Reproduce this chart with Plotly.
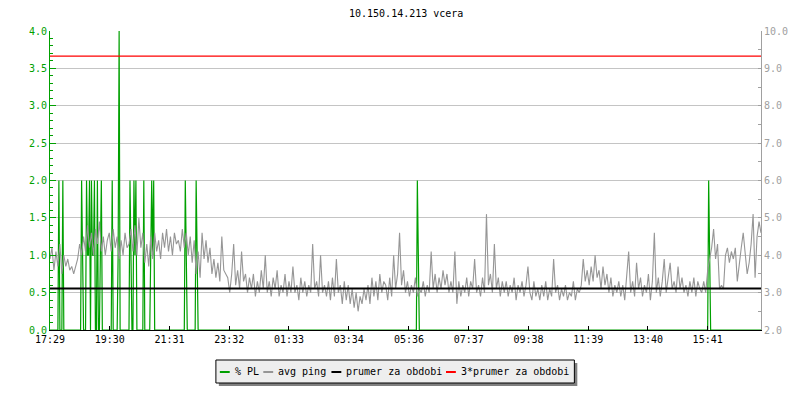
import datetime as dt
import plotly.graph_objects as go

# ---------------- data ----------------
title_text = "10.150.14.213 vcera"
start_time = "2013-05-14 17:29"
end_time = "2013-05-15 17:29"
tick_labels = ["17:29", "19:30", "21:31", "23:32", "01:33", "03:34",
               "05:36", "07:37", "09:38", "11:39", "13:40", "15:41"]

ping_step_min = 4  # avg ping sample every 4 minutes (ms)
avg_ping = [
    3.9, 4.2, 3.6, 4.1, 3.7, 4.3, 3.5, 4.0, 3.7, 3.9,
    3.6, 3.7, 3.5, 3.7, 3.9, 4.3, 4.0, 4.5, 4.1, 4.8,
    4.2, 4.6, 4.0, 4.7, 4.3, 4.9, 4.1, 4.5, 4.0, 4.4,
    4.6, 4.1, 4.7, 4.2, 4.5, 3.9, 4.4, 4.0, 4.6, 4.2,
    4.3, 4.7, 4.1, 4.8, 4.0, 5.0, 4.2, 4.6, 3.8, 4.3,
    3.7, 4.5, 3.9, 4.6, 4.1, 4.4, 3.9, 4.6, 4.2, 4.7,
    4.1, 4.5, 4.0, 4.6, 4.3, 4.4, 4.1, 4.7, 4.2, 4.6,
    4.0, 4.5, 3.8, 4.4, 3.5, 4.1, 3.4, 4.6, 3.9, 4.4,
    3.8, 4.2, 3.5, 3.9, 3.4, 3.8, 3.3, 4.5, 3.6, 3.5,
    3.4, 3.0, 3.5, 4.3, 3.2, 3.6, 3.1, 4.1, 3.3, 3.5,
    3.0, 3.4, 3.1, 3.5, 2.9, 3.3, 3.0, 3.6, 3.1, 4.0,
    3.0, 3.3, 2.9, 3.4, 3.1, 3.6, 2.9, 3.2, 3.0, 3.5,
    2.9, 3.3, 3.0, 3.7, 3.0, 3.2, 2.8, 3.4, 3.0, 3.3,
    2.9, 3.2, 3.0, 4.3, 3.1, 3.3, 2.9, 4.0, 3.0, 3.2,
    2.9, 3.3, 2.8, 3.4, 2.9, 3.9, 3.0, 3.2, 2.7, 3.3,
    2.8, 3.2, 2.7, 3.1, 2.6, 3.0, 2.5, 2.9, 2.7, 3.1,
    2.8, 3.2, 2.7, 3.4, 2.9, 3.3, 2.8, 3.5, 3.0, 3.3,
    3.2, 2.8, 3.4, 2.9, 4.0, 3.1, 3.5, 4.6, 3.2, 3.6,
    3.0, 3.3, 2.9, 3.2, 3.0, 3.4, 2.9, 3.1, 3.0, 3.3,
    2.9, 3.2, 3.0, 4.1, 3.1, 3.5, 3.0, 3.4, 3.1, 3.6,
    3.2, 3.5, 3.0, 3.3, 3.0, 4.1, 2.7, 3.3, 2.9, 3.2,
    3.0, 3.4, 2.9, 3.3, 3.1, 3.9, 3.0, 3.2, 2.9, 3.4,
    3.0, 5.1, 3.2, 3.5, 3.0, 4.3, 3.1, 3.4, 2.9, 3.3,
    3.0, 3.3, 2.9, 3.2, 3.0, 3.4, 2.8, 3.2, 3.0, 3.3,
    2.9, 3.2, 3.7, 3.0, 2.8, 3.3, 2.9, 3.1, 2.8, 3.2,
    2.9, 3.3, 2.8, 3.1, 2.9, 3.9, 3.0, 3.2, 2.8, 3.1,
    2.9, 3.2, 2.8, 3.0, 2.9, 3.3, 2.8, 3.1, 3.0, 3.2,
    3.9, 3.3, 3.6, 3.2, 3.7, 3.3, 4.0, 3.4, 3.6, 3.1,
    3.7, 3.2, 3.5, 3.0, 3.4, 2.9, 3.2, 3.0, 3.3, 2.9,
    3.2, 2.8, 3.4, 4.1, 3.0, 3.3, 2.9, 3.8, 3.1, 3.4,
    2.9, 3.2, 3.0, 3.5, 2.8, 3.3, 4.6, 3.0, 3.4, 2.9,
    3.3, 3.9, 3.0, 3.4, 3.8, 3.1, 3.3, 3.0, 3.7, 3.1,
    3.4, 3.0, 3.2, 2.9, 3.3, 3.0, 3.4, 2.9, 3.3, 3.1,
    3.0, 3.3, 3.0, 3.6, 3.9, 4.2, 4.7, 3.9, 4.3, 3.1,
    3.2, 3.1, 4.0, 4.2, 3.8, 4.1, 3.9, 4.2, 3.3, 3.8,
    4.2, 4.6, 4.0, 3.5, 3.8, 4.3, 5.1, 3.4, 4.5, 4.9,
    4.6,
]

pl_step_min = 2  # packet loss sampled every 2 minutes (%)
pl_times = ["17:47", "17:55", "18:33", "18:35", "18:43", "18:45", "18:47", "18:49",
            "18:53", "18:55", "18:57", "18:59", "19:05", "19:11", "19:13", "19:35",
            "19:47", "19:49", "20:11", "20:13", "20:19", "20:21", "20:23", "20:39",
            "20:53", "20:55", "20:57", "20:59", "22:03", "22:05", "22:25", "22:27",
            "05:53", "05:55", "15:43", "15:45"]
pl_values = [2.0, 2.0, 2.0, 1.0, 2.0, 1.0, 1.0, 2.0,
             2.0, 1.0, 1.0, 2.0, 2.0, 1.0, 2.0, 2.0,
             1.0, 4.0, 2.0, 1.0, 2.0, 1.0, 2.0, 2.0,
             1.0, 2.0, 1.0, 2.0, 2.0, 1.0, 2.0, 1.0,
             2.0, 1.0, 2.0, 1.0]

prumer = 3.11          # mean ping over period (ms)
prumer3 = 3 * prumer   # 3 * mean

legend_names = ["% PL", "avg ping", "prumer za obdobi", "3*prumer za obdobi"]

# ---------------- colours / fonts ----------------
GREEN = "#00a000"
GRAY = "#969696"
AXGRAY = "#a0a0a0"
RED = "#ff0000"
FONT = "DejaVu Sans Mono"

t0 = dt.datetime.strptime(start_time, "%Y-%m-%d %H:%M")
t1 = dt.datetime.strptime(end_time, "%Y-%m-%d %H:%M")


def hhmm_to_dt(s):
    h, m = map(int, s.split(":"))
    d = t0.replace(hour=h, minute=m)
    if d < t0:
        d += dt.timedelta(days=1)
    return d


ping_x = [t0 + dt.timedelta(minutes=ping_step_min * i) for i in range(len(avg_ping))]

n_pl = int((t1 - t0).total_seconds() // 60 // pl_step_min) + 1
pl_x = [t0 + dt.timedelta(minutes=pl_step_min * i) for i in range(n_pl)]
pl_map = {hhmm_to_dt(t): v for t, v in zip(pl_times, pl_values)}
pl_y = [pl_map.get(x, 0.0) for x in pl_x]

tick_vals = [hhmm_to_dt(t) for t in tick_labels]

fig = go.Figure()
fig.add_trace(go.Scatter(x=pl_x, y=pl_y, mode="lines", line=dict(color=GREEN, width=1.2),
                         yaxis="y", name=legend_names[0], showlegend=False))
fig.add_trace(go.Scatter(x=ping_x, y=avg_ping, mode="lines", line=dict(color=GRAY, width=1.1),
                         yaxis="y2", name=legend_names[1], showlegend=False))
fig.add_trace(go.Scatter(x=[t0, t1], y=[prumer, prumer], mode="lines",
                         line=dict(color="black", width=2), yaxis="y2",
                         name=legend_names[2], showlegend=False))
fig.add_trace(go.Scatter(x=[t0, t1], y=[prumer3, prumer3], mode="lines",
                         line=dict(color=RED, width=1.2), yaxis="y2",
                         name=legend_names[3], showlegend=False))

W, H = 800, 400
ML, MR, MT, MB = 50, 30, 31, 70
PW, PH = W - ML - MR, H - MT - MB


def px(p):
    return (p - ML) / PW


def py(p):
    return (H - MB - p) / PH


shapes = []
annotations = []
# legend shadow and box
shapes.append(dict(type="rect", xref="paper", yref="paper", x0=px(221), x1=px(584),
                   y0=py(363), y1=py(386), fillcolor="#808080", line=dict(width=0)))
shapes.append(dict(type="rect", xref="paper", yref="paper", x0=px(218), x1=px(581),
                   y0=py(360), y1=py(383), fillcolor="#eeeeee",
                   line=dict(color="black", width=1)))
legend_colors = [GREEN, GRAY, "black", RED]
legend_x = [222, 266, 335, 451]
for name, col, lx in zip(legend_names, legend_colors, legend_x):
    shapes.append(dict(type="line", xref="paper", yref="paper", x0=px(lx), x1=px(lx + 10),
                       y0=py(372), y1=py(372), line=dict(color=col, width=2)))
    annotations.append(dict(text=name, xref="paper", yref="paper", x=px(lx + 13), y=py(371.5),
                            xanchor="left", yanchor="middle", showarrow=False,
                            font=dict(family=FONT, size=10, color="black")))

annotations.append(dict(text=title_text, xref="paper", yref="paper", x=0.5, y=py(13),
                        xanchor="center", yanchor="middle", showarrow=False,
                        font=dict(family=FONT, size=10, color="black")))

fig.update_layout(
    width=W, height=H,
    margin=dict(l=ML, r=MR, t=MT, b=MB),
    paper_bgcolor="white", plot_bgcolor="white",
    font=dict(family=FONT, size=10),
    showlegend=False,
    shapes=shapes, annotations=annotations,
    xaxis=dict(type="date", range=[t0, t1], tickvals=tick_vals, ticktext=tick_labels,
               ticks="inside", ticklen=4, tickcolor="black", showline=True,
               linecolor="black", linewidth=1, showgrid=False, zeroline=False,
               tickfont=dict(family=FONT, size=10, color="black")),
    yaxis=dict(range=[0, 4], dtick=0.5, tick0=0, tickformat=".1f", showline=True,
               linecolor=GREEN, linewidth=1, ticks="inside", ticklen=6, tickcolor=GREEN,
               tickfont=dict(family=FONT, size=10, color=GREEN),
               showgrid=True, gridcolor="#c4c4c4", gridwidth=1, zeroline=False,
               minor=dict(dtick=0.1, ticks="inside", ticklen=3, tickcolor=GREEN, showgrid=False)),
    yaxis2=dict(range=[2, 10], dtick=1, tick0=2, tickformat=".1f", overlaying="y", side="right",
                showline=True, linecolor=AXGRAY, linewidth=1, ticks="inside", ticklen=3,
                tickcolor=AXGRAY, tickfont=dict(family=FONT, size=10, color=AXGRAY),
                showgrid=False, zeroline=False,
                minor=dict(dtick=0.5, ticks="inside", ticklen=3, tickcolor=AXGRAY, showgrid=False)),
)

fig.write_html("out.html", config={"displayModeBar": False},
               post_script="document.body.style.margin='0';")
